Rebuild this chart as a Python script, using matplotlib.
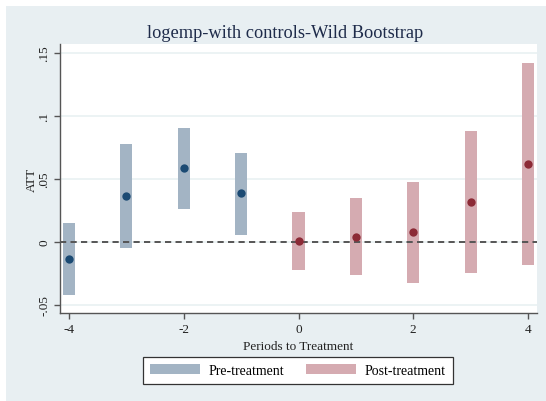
import numpy as np
import matplotlib
matplotlib.use("Agg")
import matplotlib.pyplot as plt
from matplotlib.patches import Rectangle, Patch

# event-study estimates, periods relative to treatment
pre_periods = [-4, -3, -2, -1]
pre_att = [-0.0135, 0.0365, 0.0587, 0.0389]
pre_lo = [-0.0420, -0.0048, 0.0260, 0.0056]
pre_hi = [0.0151, 0.0778, 0.0905, 0.0706]

post_periods = [0, 1, 2, 3, 4]
post_att = [0.0008, 0.0040, 0.0080, 0.0317, 0.0619]
post_lo = [-0.0222, -0.0260, -0.0328, -0.0246, -0.0180]
post_hi = [0.0238, 0.0350, 0.0479, 0.0880, 0.1418]

yticks = [-0.05, 0, 0.05, 0.1, 0.15]
ytick_labels = ['-.05', '0', '.05', '.1', '.15']
xticks = [-4, -2, 0, 2, 4]

BG = '#E8EFF2'
PRE_BAR, PRE_DOT = '#A3B4C4', '#1B4A73'
POST_BAR, POST_DOT = '#D5ABB1', '#8C2A36'

plt.rcParams['font.family'] = ['Liberation Serif', 'DejaVu Serif']

W, H = 546, 402
fig = plt.figure(figsize=(W / 100, H / 100), dpi=100, facecolor='white')
# graph region (light bluish gray), leaving a thin white strip top/left
fig.patches.append(Rectangle((6 / W, 0), 1, 1 - 7 / H, transform=fig.transFigure,
                             facecolor=BG, edgecolor='none', zorder=-5))

ax = fig.add_axes([60 / W, 1 - 314 / H, 477 / W, 269 / H])
ax.set_zorder(2)
ax.set_facecolor('white')

bw = 0.21
ax.bar(pre_periods, np.subtract(pre_hi, pre_lo), bottom=pre_lo, width=bw,
       color=PRE_BAR, zorder=2)
ax.bar(post_periods, np.subtract(post_hi, post_lo), bottom=post_lo, width=bw,
       color=POST_BAR, zorder=2)
ax.scatter(pre_periods, pre_att, s=36, color=PRE_DOT, zorder=4, linewidths=0)
ax.scatter(post_periods, post_att, s=36, color=POST_DOT, zorder=4, linewidths=0)

ax.axhline(0, color='#555555', lw=1.4, dashes=(3.2, 2.2), zorder=3)

ax.set_xlim(-4.157, 4.157)
ax.set_ylim(-0.0563, 0.157)
ax.set_yticks(yticks)
ax.set_yticklabels(ytick_labels, rotation=90, va='center')
ax.set_xticks(xticks)
ax.set_xticklabels([str(x) for x in xticks])
ax.grid(axis='y', color='#E9F1F2', lw=1.2, zorder=0)
ax.set_axisbelow(True)

for s in ('top', 'right'):
    ax.spines[s].set_visible(False)
for s in ('left', 'bottom'):
    ax.spines[s].set_color('#555555')
    ax.spines[s].set_linewidth(1.0)
ax.tick_params(axis='both', direction='out', length=4, width=1.0, color='#555555',
               labelsize=9.5, labelcolor='#222222', pad=3)

ax.set_xlabel('Periods to Treatment', fontsize=9.5, color='#222222', labelpad=4)
ax.set_ylabel('ATT', fontsize=9.5, color='#222222', labelpad=0.5)
fig.text(285 / W, 1 - 33 / H, 'logemp-with controls-Wild Bootstrap',
         ha='center', va='center', fontsize=13.2, color='#1E2B4A')

handles = [Patch(facecolor=PRE_BAR, edgecolor='none', label='Pre-treatment'),
           Patch(facecolor=POST_BAR, edgecolor='none', label='Post-treatment')]
leg = fig.legend(handles=handles, loc='center', bbox_to_anchor=(298 / W, 1 - 371.5 / H),
                 ncol=2, fontsize=10, frameon=True, fancybox=False,
                 handlelength=3.6, handleheight=0.75, columnspacing=1.6,
                 handletextpad=0.6, borderpad=0.5, borderaxespad=0)
leg.get_frame().set_edgecolor('#333333')
leg.get_frame().set_linewidth(0.9)
leg.get_frame().set_facecolor('white')
leg.get_frame().set_alpha(1)

fig.savefig('out.png', dpi=100, facecolor=fig.get_facecolor())
